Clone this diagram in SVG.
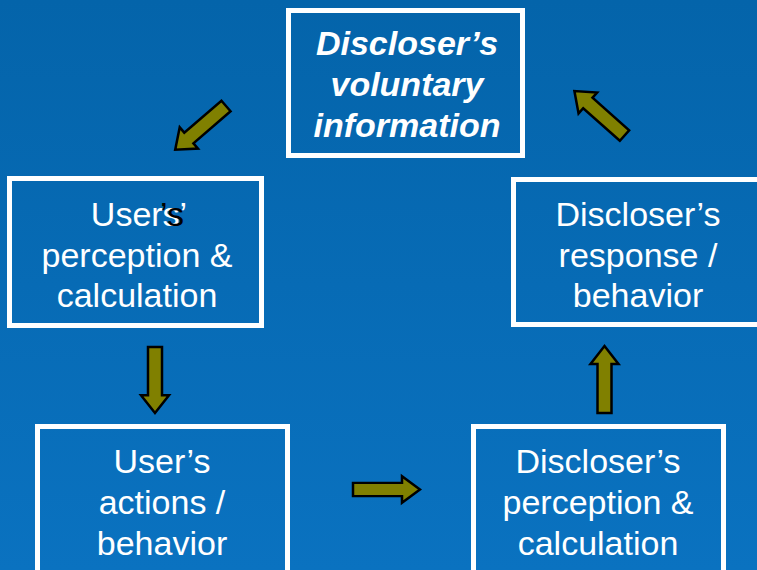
<svg xmlns="http://www.w3.org/2000/svg" width="757" height="570" viewBox="0 0 757 570">
<defs>
<linearGradient id="bg" x1="0" y1="0" x2="0" y2="1">
<stop offset="0" stop-color="#0464AA"/>
<stop offset="1" stop-color="#0A72C0"/>
</linearGradient>
<path id="arr" d="M0,-7 L49,-7 L49,-14 L67,0 L49,14 L49,7 L0,7 Z"/>
<style>
.box{fill:none;stroke:#ffffff;stroke-width:5}
.t{font-family:"Liberation Sans",Arial,sans-serif;font-size:34px;fill:#ffffff;text-anchor:middle}
.ti{font-weight:bold;font-style:italic}
.a{fill:#808000;stroke:#000000;stroke-width:2.5;stroke-linejoin:miter}
</style>
</defs>
<rect x="0" y="0" width="757" height="570" fill="url(#bg)"/>
<g id="connectors">
<use href="#arr" class="a" transform="translate(226,106) rotate(139.3)"/>
<use href="#arr" class="a" transform="translate(155,347) rotate(90) scale(0.985,1)"/>
<use href="#arr" class="a" transform="translate(353,489.5) scale(1,0.95)"/>
<use href="#arr" class="a" transform="translate(604.5,413) rotate(-90)"/>
<use href="#arr" class="a" transform="translate(624.5,135.5) rotate(-138.4)"/>
</g>
<g id="n-top">
<rect class="box" x="288.5" y="10.5" width="234" height="145"/>
<text class="t ti" x="407" y="55">Discloser’s</text>
<text class="t ti" x="407" y="96">voluntary</text>
<text class="t ti" x="407" y="137">information</text>
</g>
<g id="n-users-perception">
<rect class="box" x="9.5" y="178.5" width="252" height="147"/>
<text class="t" x="139" y="226">Users’</text>
<text class="t" x="160" y="226" style="fill:#000000;text-anchor:start">’s</text>
<text class="t" x="137" y="267">perception &amp;</text>
<text class="t" x="137" y="307">calculation</text>
</g>
<g id="n-discloser-response">
<rect class="box" x="513.5" y="179.5" width="260" height="145"/>
<text class="t" x="638" y="226">Discloser’s</text>
<text class="t" x="638" y="267">response /</text>
<text class="t" x="638" y="307">behavior</text>
</g>
<g id="n-users-actions">
<rect class="box" x="37.5" y="426.5" width="250" height="160"/>
<text class="t" x="162" y="473">User’s</text>
<text class="t" x="162" y="514">actions /</text>
<text class="t" x="162" y="555">behavior</text>
</g>
<g id="n-discloser-perception">
<rect class="box" x="473.5" y="426.5" width="250" height="160"/>
<text class="t" x="598" y="473">Discloser’s</text>
<text class="t" x="598" y="514">perception &amp;</text>
<text class="t" x="598" y="555">calculation</text>
</g>
</svg>
